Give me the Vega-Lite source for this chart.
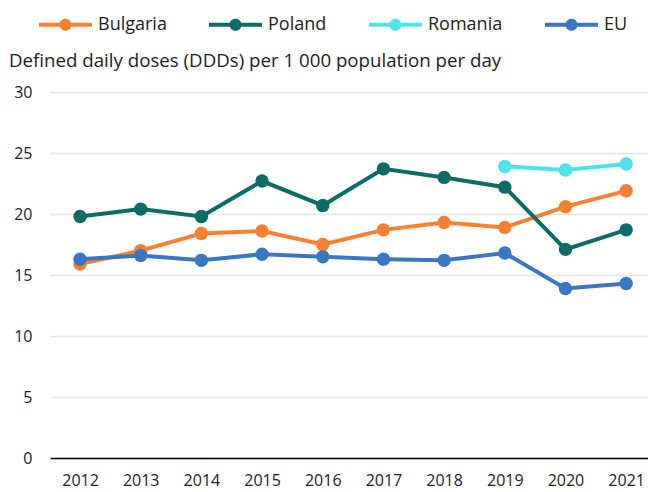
{
  "$schema": "https://vega.github.io/schema/vega-lite/v6.json",
  "width": 598,
  "height": 366,
  "padding": {"left": 50, "top": 92, "right": 0, "bottom": 34},
  "autosize": {"type": "none"},
  "background": "white",
  "config": {
    "font": "Open Sans",
    "view": {"stroke": null}
  },
  "data": {
    "values": [
      {"country": "Bulgaria", "year": 2012, "ddd": 15.9},
      {"country": "Bulgaria", "year": 2013, "ddd": 17.0},
      {"country": "Bulgaria", "year": 2014, "ddd": 18.4},
      {"country": "Bulgaria", "year": 2015, "ddd": 18.6},
      {"country": "Bulgaria", "year": 2016, "ddd": 17.5},
      {"country": "Bulgaria", "year": 2017, "ddd": 18.7},
      {"country": "Bulgaria", "year": 2018, "ddd": 19.3},
      {"country": "Bulgaria", "year": 2019, "ddd": 18.9},
      {"country": "Bulgaria", "year": 2020, "ddd": 20.6},
      {"country": "Bulgaria", "year": 2021, "ddd": 21.9},
      {"country": "Poland", "year": 2012, "ddd": 19.8},
      {"country": "Poland", "year": 2013, "ddd": 20.4},
      {"country": "Poland", "year": 2014, "ddd": 19.8},
      {"country": "Poland", "year": 2015, "ddd": 22.7},
      {"country": "Poland", "year": 2016, "ddd": 20.7},
      {"country": "Poland", "year": 2017, "ddd": 23.7},
      {"country": "Poland", "year": 2018, "ddd": 23.0},
      {"country": "Poland", "year": 2019, "ddd": 22.2},
      {"country": "Poland", "year": 2020, "ddd": 17.1},
      {"country": "Poland", "year": 2021, "ddd": 18.7},
      {"country": "Romania", "year": 2019, "ddd": 23.9},
      {"country": "Romania", "year": 2020, "ddd": 23.6},
      {"country": "Romania", "year": 2021, "ddd": 24.1},
      {"country": "EU", "year": 2012, "ddd": 16.3},
      {"country": "EU", "year": 2013, "ddd": 16.6},
      {"country": "EU", "year": 2014, "ddd": 16.2},
      {"country": "EU", "year": 2015, "ddd": 16.7},
      {"country": "EU", "year": 2016, "ddd": 16.5},
      {"country": "EU", "year": 2017, "ddd": 16.3},
      {"country": "EU", "year": 2018, "ddd": 16.2},
      {"country": "EU", "year": 2019, "ddd": 16.8},
      {"country": "EU", "year": 2020, "ddd": 13.9},
      {"country": "EU", "year": 2021, "ddd": 14.3}
    ]
  },
  "encoding": {
    "x": {
      "field": "year",
      "type": "quantitative",
      "scale": {"domain": [2011.505, 2021.36], "nice": false, "zero": false},
      "axis": {
        "values": [2012, 2013, 2014, 2015, 2016, 2017, 2018, 2019, 2020, 2021],
        "format": "d",
        "title": null,
        "grid": false,
        "ticks": false,
        "domainColor": "#000000",
        "domainWidth": 1.5,
        "labelFontSize": 16,
        "labelColor": "#222222",
        "labelPadding": 14,
        "labelFlush": false
      }
    },
    "y": {
      "field": "ddd",
      "type": "quantitative",
      "scale": {"domain": [0, 30], "nice": false},
      "axis": {
        "values": [0, 5, 10, 15, 20, 25, 30],
        "title": null,
        "domain": false,
        "ticks": false,
        "grid": true,
        "gridColor": "#e6e6e6",
        "gridWidth": 1.5,
        "labelFontSize": 16,
        "labelColor": "#222222",
        "labelPadding": 18
      }
    },
    "color": {
      "field": "country",
      "type": "nominal",
      "scale": {
        "domain": ["Bulgaria", "Poland", "Romania", "EU"],
        "range": ["#F58232", "#0E6B65", "#4DE3E8", "#3A77C2"]
      },
      "legend": {
        "orient": "none",
        "legendX": -11,
        "legendY": -94,
        "direction": "horizontal",
        "title": null,
        "labelFontSize": 18,
        "labelColor": "#222222",
        "labelOffset": 6,
        "columnPadding": 42,
        "symbolType": "M-1,-0.075H1V0.075H-1Z M-0.23,0A0.23,0.23 0 1,1 0.23,0A0.23,0.23 0 1,1 -0.23,0Z",
        "symbolSize": 2809,
        "symbolStrokeWidth": 0,
        "encode": {
          "symbols": {"update": {"fill": {"scale": "color", "field": "value"}, "fillOpacity": {"value": 1}}}
        }
      }
    }
  },
  "layer": [
    {
      "mark": {"type": "line", "strokeWidth": 4},
      "encoding": {"detail": {"field": "country"}}
    },
    {
      "mark": {"type": "circle", "size": 180, "opacity": 1}
    },
    {
      "mark": {"type": "text", "align": "left", "baseline": "middle", "fontSize": 18.7, "color": "#222222"},
      "data": {"values": [{"t": "Defined daily doses (DDDs) per 1 000 population per day"}]},
      "encoding": {
        "text": {"field": "t"},
        "x": {"value": -41},
        "y": {"value": -31},
        "color": null
      }
    }
  ]
}
